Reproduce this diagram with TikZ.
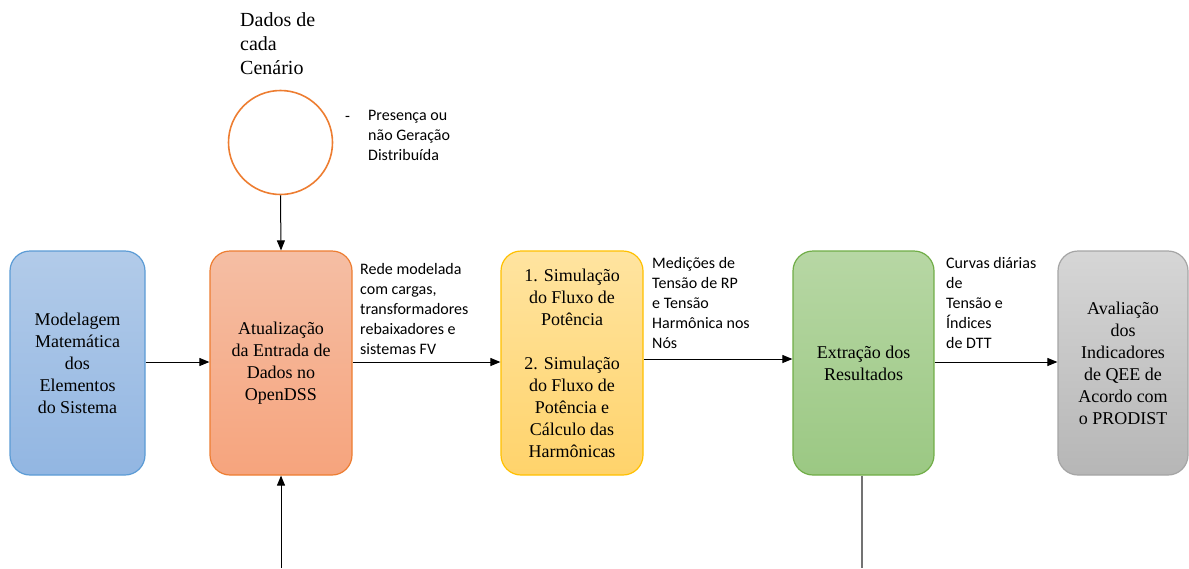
\documentclass[tikz,border=0pt]{standalone}
\usepackage{fontspec}
\setmainfont{Liberation Serif}
\newfontfamily\lblfont{Carlito}
\usetikzlibrary{arrows.meta}
\definecolor{bluetop}{HTML}{B2CBE9}
\definecolor{bluebot}{HTML}{92B6E2}
\definecolor{blueedge}{HTML}{5B9BD5}
\definecolor{orgtop}{HTML}{F5BEA4}
\definecolor{orgbot}{HTML}{F6A47D}
\definecolor{orgedge}{HTML}{ED7D31}
\definecolor{yeltop}{HTML}{FFE4A0}
\definecolor{yelbot}{HTML}{FFD36B}
\definecolor{yeledge}{HTML}{FFC000}
\definecolor{grntop}{HTML}{B7D7A4}
\definecolor{grnbot}{HTML}{9BC883}
\definecolor{grnedge}{HTML}{70AD47}
\definecolor{grytop}{HTML}{D6D6D6}
\definecolor{grybot}{HTML}{B6B6B6}
\definecolor{gryedge}{HTML}{A5A5A5}
\tikzset{
  procbox/.style={draw, line width=1.2pt, rounded corners=20pt, minimum height=224pt,
    inner sep=0pt, align=center, font=\fontsize{18}{22}\selectfont},
  lbl/.style={inner sep=0pt, align=left, anchor=north west, font=\lblfont\fontsize{16}{20}\selectfont},
  arr/.style={line width=1pt, -{Triangle[length=10pt,width=8pt]}}
}
\begin{document}
\begin{tikzpicture}[x=1pt,y=-1pt]
\useasboundingbox (0,0) rectangle (1189,568);
\node[procbox, minimum width=135pt, top color=bluetop, bottom color=bluebot, draw=blueedge] (m) at (77.5,363) {Modelagem\\Matemática\\dos\\Elementos\\do Sistema};
\node[procbox, minimum width=142pt, top color=orgtop, bottom color=orgbot, draw=orgedge] (a) at (281,363) {Atualização\\da Entrada de\\Dados no\\OpenDSS};
\node[procbox, minimum width=142pt, top color=yeltop, bottom color=yelbot, draw=yeledge] (s) at (572,363) {1. Simulação\\do Fluxo de\\Potência\\[22pt]2. Simulação\\do Fluxo de\\Potência e\\Cálculo das\\Harmônicas};
\node[procbox, minimum width=141pt, top color=grntop, bottom color=grnbot, draw=grnedge] (e) at (863.5,363) {Extração dos\\Resultados};
\node[procbox, minimum width=130pt, top color=grytop, bottom color=grybot, draw=gryedge] (v) at (1123,363) {Avaliação\\dos\\Indicadores\\de QEE de\\Acordo com\\o PRODIST};
\node[draw=orgedge, line width=1.6pt, circle, minimum size=104pt, inner sep=0pt] (c) at (280.5,142.5) {};
\node[inner sep=0pt, align=left, anchor=north west, font=\fontsize{20}{24}\selectfont] (d) at (240,12) {Dados de\\cada\\Cenário};
\node[inner sep=0pt, anchor=base west, font=\lblfont\fontsize{16}{20}\selectfont] (dash) at (345,121) {-};
\node[lbl] (p) at (368,110) {Presença ou\\não Geração\\Distribuída};
\node[lbl] (r) at (360,263) {Rede modelada\\com cargas,\\transformadores\\rebaixadores e\\sistemas FV};
\node[lbl] (md) at (652,257) {Medições de\\Tensão de RP\\e Tensão\\Harmônica nos\\Nós};
\node[lbl] (cv) at (946,257) {Curvas diárias\\de\\Tensão e\\Índices\\de DTT};
\coordinate (bin) at (281,568);
\coordinate (bout) at (862,568);
\draw[arr] (m.east |- 0,362) -- (a.west |- 0,362);
\draw[arr] (a.east |- 0,362) -- (s.west |- 0,362);
\draw[arr] (s.east |- 0,359) -- (e.west |- 0,359);
\draw[arr] (e.east |- 0,362) -- (v.west |- 0,362);
\draw[arr] (c.south) -- (a.north);
\draw[arr] (bin) -- (a.south);
\draw[line width=1.5pt, color=black!55] (e.south -| bout) -- (bout);
\end{tikzpicture}
\end{document}
